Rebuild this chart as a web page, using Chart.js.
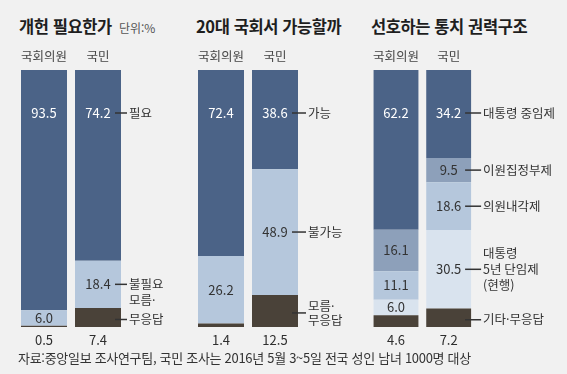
<!DOCTYPE html>
<html lang="ko">
<head>
<meta charset="utf-8">
<script src="https://cdn.jsdelivr.net/npm/chart.js@4.4.1/dist/chart.umd.min.js"></script>
<style>
  html, body { margin: 0; padding: 0; }
  body {
    width: 567px; height: 374px; position: relative; overflow: hidden;
    background: #f1f1f1; color: #222;
    font-family: 'Noto Sans CJK KR', 'Noto Sans', sans-serif;
  }
  .title {
    position: absolute; top: 15px; line-height: 22px; white-space: nowrap;
    font-size: 16.5px; font-weight: 700; letter-spacing: -0.4px; color: #1e1e1e;
  }
  .unit { font-size: 12px; font-weight: 400; color: #555; margin-left: 7px; letter-spacing: 0; }
  .panel { position: absolute; top: 0; }
  .footer {
    position: absolute; left: 18px; top: 349px; line-height: 17px;
    font-size: 13px; color: #333; letter-spacing: -0.3px; white-space: nowrap;
  }
</style>
</head>
<body>
<div class="title" style="left:19px">개헌 필요한가<span class="unit">단위:%</span></div>
<div class="title" style="left:196px">20대 국회서 가능할까</div>
<div class="title" style="left:371px">선호하는 통치 권력구조</div>

<div class="panel" style="left:0px"><canvas id="needChart" width="190" height="374"></canvas></div>
<div class="panel" style="left:190px"><canvas id="canChart" width="177" height="374"></canvas></div>
<div class="panel" style="left:367px"><canvas id="structChart" width="200" height="374"></canvas></div>

<div class="footer">자료:중앙일보 조사연구팀, 국민 조사는 2016년 5월 3~5일 전국 성인 남녀 1000명 대상</div>

<script>
// categories (same for every panel)
const groups = ['국회의원', '국민'];

// 1. 개헌 필요한가
const needYes = [93.5, 74.2];
const needNo = [6.0, 18.4];
const needDk = [0.5, 7.4];

// 2. 20대 국회서 가능할까
const canYes = [72.4, 38.6];
const canNo = [26.2, 48.9];
const canDk = [1.4, 12.5];

// 3. 선호하는 통치 권력구조
const structRepeat = [62.2, 34.2];
const structDual = [16.1, 9.5];
const structParl = [11.1, 18.6];
const structSingle = [6.0, 30.5];
const structEtc = [4.6, 7.2];

// series names, used as the side notes next to the 국민 bar
const needNames = [['모름·', '무응답'], ['불필요'], ['필요']];
const canNames = [['모름·', '무응답'], ['불가능'], ['가능']];
const structNames = [['기타·무응답'], ['대통령', '5년 단임제', '(현행)'], ['의원내각제'], ['이원집정부제'], ['대통령 중임제']];

const FONT = "'Noto Sans CJK KR', 'Noto Sans', sans-serif";
const colors = {
    dark: '#4b6387',
    mid: '#8da0ba',
    light: '#b5c7dc',
    pale: '#d9e3ee',
    brown: '#4a4239'
};

// draws the value in each segment and the notes for the 2nd bar
const segLabels = {
    id: 'segLabels',
    afterDatasetsDraw(chart, args, opts) {
        const ctx = chart.ctx;
        const area = chart.chartArea;
        const n = chart.data.datasets.length;
        ctx.save();
        chart.data.datasets.forEach((ds, i) => {
            const meta = chart.getDatasetMeta(i);
            meta.data.forEach((bar, j) => {
                const top = Math.min(bar.y, bar.base);
                const bottom = Math.max(bar.y, bar.base);
                let y, color;
                if (i === n - 1) {
                    y = area.top + 43; color = '#fff';
                } else if (i === 0) {
                    y = area.bottom + 13; color = '#2e2e2e';
                } else {
                    y = (top + bottom) / 2; color = '#333';
                }
                ctx.font = '13px ' + FONT;
                ctx.textAlign = 'center';
                ctx.textBaseline = 'middle';
                ctx.fillStyle = color;
                ctx.fillText(ds.data[j].toFixed(1), bar.x, y);

                if (j === 1 && ds.note) {
                    const lineY = i === 0 ? (top + bottom) / 2 + 2 : y;
                    const right = bar.x + bar.width / 2;
                    ctx.strokeStyle = '#333';
                    ctx.lineWidth = 1.5;
                    ctx.beginPath();
                    ctx.moveTo(right - 6, lineY);
                    ctx.lineTo(right + opts.lineEnd, lineY);
                    ctx.stroke();

                    ctx.font = '12.5px ' + FONT;
                    ctx.textAlign = 'left';
                    ctx.fillStyle = '#333';
                    const lh = ds.noteLH || 15;
                    const anchor = ds.noteAnchor || 0;
                    ds.note.forEach((t, k) => {
                        ctx.fillText(t, right + opts.lineEnd + 2, lineY + (k - anchor) * lh);
                    });
                }
            });
        });
        ctx.restore();
    }
};

function makePanel(canvasId, padLeft, padRight, lineEnd, series) {
    const ctx = document.getElementById(canvasId).getContext('2d');
    return new Chart(ctx, {
        type: 'bar',
        data: {
            labels: groups,
            datasets: series.map(s => ({
                label: s.note.join(' '),
                data: s.data,
                backgroundColor: s.color,
                borderWidth: 0,
                barPercentage: 46 / 54,
                categoryPercentage: 1,
                note: s.note,
                noteLH: s.lh,
                noteAnchor: s.anchor
            }))
        },
        options: {
            responsive: false,
            animation: false,
            layout: { padding: { top: 40, bottom: 47, left: padLeft, right: padRight } },
            plugins: {
                legend: { display: false },
                tooltip: { enabled: false },
                segLabels: { lineEnd: lineEnd }
            },
            scales: {
                x: {
                    position: 'top',
                    stacked: true,
                    grid: { display: false, drawTicks: false },
                    border: { display: false },
                    ticks: { color: '#444', font: { family: FONT, size: 12.5 }, padding: 6 },
                    afterFit(scale) { scale.height = 30; }
                },
                y: { display: false, stacked: true, min: 0, max: 100 }
            }
        },
        plugins: [segLabels]
    });
}

makePanel('needChart', 17, 65, 6, [
    { data: needDk, color: colors.brown, note: needNames[0], lh: 19, anchor: 1 },
    { data: needNo, color: colors.light, note: needNames[1] },
    { data: needYes, color: colors.dark, note: needNames[2] }
]);

makePanel('canChart', 4, 65, 8, [
    { data: canDk, color: colors.brown, note: canNames[0], lh: 14, anchor: 0.5 },
    { data: canNo, color: colors.light, note: canNames[1] },
    { data: canYes, color: colors.dark, note: canNames[2] }
]);

makePanel('structChart', 0, 92, 10, [
    { data: structEtc, color: colors.brown, note: structNames[0] },
    { data: structSingle, color: colors.pale, note: structNames[1], lh: 16, anchor: 1 },
    { data: structParl, color: colors.light, note: structNames[2] },
    { data: structDual, color: colors.mid, note: structNames[3] },
    { data: structRepeat, color: colors.dark, note: structNames[4] }
]);
</script>
</body>
</html>
